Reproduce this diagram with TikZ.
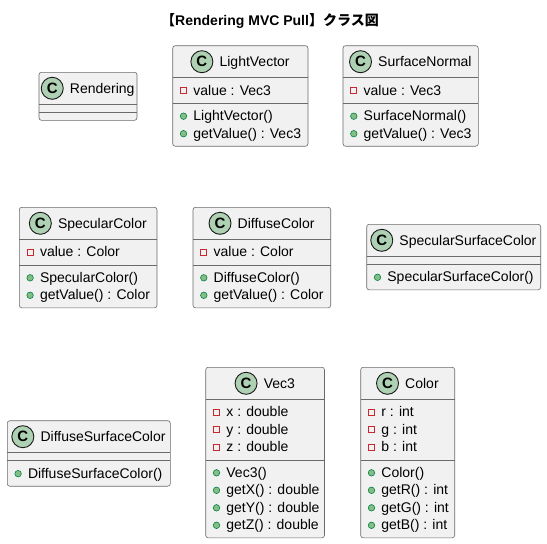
\documentclass[tikz,border=0pt]{standalone}
\usepackage{fontspec}
\setmainfont{Liberation Sans}
\newfontfamily\cjk{Noto Sans CJK JP}
\definecolor{boxfill}{HTML}{F1F1F1}
\definecolor{boxdraw}{HTML}{6A6A6A}
\definecolor{spotdraw}{HTML}{181818}
\definecolor{spotfill}{HTML}{ADD1B2}
\definecolor{privred}{HTML}{C82930}
\definecolor{pubfill}{HTML}{84BE84}
\definecolor{pubdraw}{HTML}{038048}
\tikzset{
  boxline/.style={draw=boxdraw, fill=boxfill, line width=0.6pt, rounded corners=2.5pt},
  sepline/.style={draw=boxdraw, line width=0.6pt},
  clsname/.style={inner sep=0pt, font=\fontsize{14}{16}\selectfont, text height=10pt, text depth=3pt},
  memtext/.style={inner sep=0pt, font=\fontsize{14}{16}\selectfont},
  spot/.style={circle, draw=spotdraw, fill=spotfill, line width=0.9pt, minimum size=22pt, inner sep=0pt,
    font=\bfseries\fontsize{15}{15}\selectfont},
  priv/.style={rectangle, draw=privred, line width=0.9pt, minimum size=6pt, inner sep=0pt},
  pub/.style={circle, draw=pubdraw, fill=pubfill, line width=0.6pt, minimum size=6.5pt, inner sep=0pt},
  titlest/.style={inner sep=0pt, font=\bfseries\fontsize{14}{16}\selectfont}
}
\newcommand\umlbox[7]{%
  \pgfmathsetmacro\tmpA{#4+32}%
  \pgfmathsetmacro\tmpM{\tmpA+8+#5*17.5}%
  \pgfmathsetmacro\tmpB{\tmpM+8+#6*17.5}%
  \pgfmathsetmacro\tmpC{(#2+#3)/2}%
  \expandafter\xdef\csname uL#1\endcsname{#2}%
  \expandafter\xdef\csname uA#1\endcsname{\tmpA}%
  \expandafter\xdef\csname uM#1\endcsname{\tmpM}%
  \draw[boxline] (#2,#4) rectangle (#3,\tmpB);
  \draw[sepline] (#2,\tmpA) -- (#3,\tmpA);
  \draw[sepline] (#2,\tmpM) -- (#3,\tmpM);
  \node[clsname, anchor=base] (#1) at (\tmpC+14.25,#4+21) {#7};
  \node[spot] (#1-c) at ([xshift=-17.5pt,yshift=1.5pt]#1.west) {C};
}
\newcommand\umlmem[5]{%
  \pgfmathsetmacro\tmpY{\csname u#2#1\endcsname+4+#3*17.5+13.5}%
  \pgfmathsetmacro\tmpX{\csname uL#1\endcsname}%
  \node[memtext, anchor=base west] (#1-#2#3) at (\tmpX+20.5,\tmpY) {#5};
  \node[#4] (#1-#2#3-v) at (\tmpX+10.8,\tmpY-4.5) {};
}
\begin{document}
\begin{tikzpicture}[x=1pt,y=-1pt]
\useasboundingbox (0,0) rectangle (547,544);
\fill[white] (0,0) rectangle (547,544);
\node[titlest, anchor=base] (title) at (270,25) {{\cjk 【}Rendering MVC Pull{\cjk 】クラス図}};

\umlbox{rend}{39}{137}{72.3}{0}{0}{Rendering}

\umlbox{lv}{172.7}{308}{45.7}{1}{2}{LightVector}
\umlmem{lv}{A}{0}{priv}{value : Vec3}
\umlmem{lv}{M}{0}{pub}{LightVector()}
\umlmem{lv}{M}{1}{pub}{getValue() : Vec3}

\umlbox{sn}{343}{478.3}{45.7}{1}{2}{SurfaceNormal}
\umlmem{sn}{A}{0}{priv}{value : Vec3}
\umlmem{sn}{M}{0}{pub}{SurfaceNormal()}
\umlmem{sn}{M}{1}{pub}{getValue() : Vec3}

\umlbox{sc}{19.3}{157}{207.3}{1}{2}{SpecularColor}
\umlmem{sc}{A}{0}{priv}{value : Color}
\umlmem{sc}{M}{0}{pub}{SpecularColor()}
\umlmem{sc}{M}{1}{pub}{getValue() : Color}

\umlbox{dc}{193}{330.7}{207.3}{1}{2}{DiffuseColor}
\umlmem{dc}{A}{0}{priv}{value : Color}
\umlmem{dc}{M}{0}{pub}{DiffuseColor()}
\umlmem{dc}{M}{1}{pub}{getValue() : Color}

\umlbox{ssc}{366.7}{540.7}{224.3}{0}{1}{SpecularSurfaceColor}
\umlmem{ssc}{M}{0}{pub}{SpecularSurfaceColor()}

\umlbox{dsc}{7.3}{170.3}{420.7}{0}{1}{DiffuseSurfaceColor}
\umlmem{dsc}{M}{0}{pub}{DiffuseSurfaceColor()}

\umlbox{vec}{205.7}{324.5}{367.3}{3}{4}{Vec3}
\umlmem{vec}{A}{0}{priv}{x : double}
\umlmem{vec}{A}{1}{priv}{y : double}
\umlmem{vec}{A}{2}{priv}{z : double}
\umlmem{vec}{M}{0}{pub}{Vec3()}
\umlmem{vec}{M}{1}{pub}{getX() : double}
\umlmem{vec}{M}{2}{pub}{getY() : double}
\umlmem{vec}{M}{3}{pub}{getZ() : double}

\umlbox{col}{360.7}{454.7}{367.3}{3}{4}{Color}
\umlmem{col}{A}{0}{priv}{r : int}
\umlmem{col}{A}{1}{priv}{g : int}
\umlmem{col}{A}{2}{priv}{b : int}
\umlmem{col}{M}{0}{pub}{Color()}
\umlmem{col}{M}{1}{pub}{getR() : int}
\umlmem{col}{M}{2}{pub}{getG() : int}
\umlmem{col}{M}{3}{pub}{getB() : int}
\end{tikzpicture}
\end{document}
